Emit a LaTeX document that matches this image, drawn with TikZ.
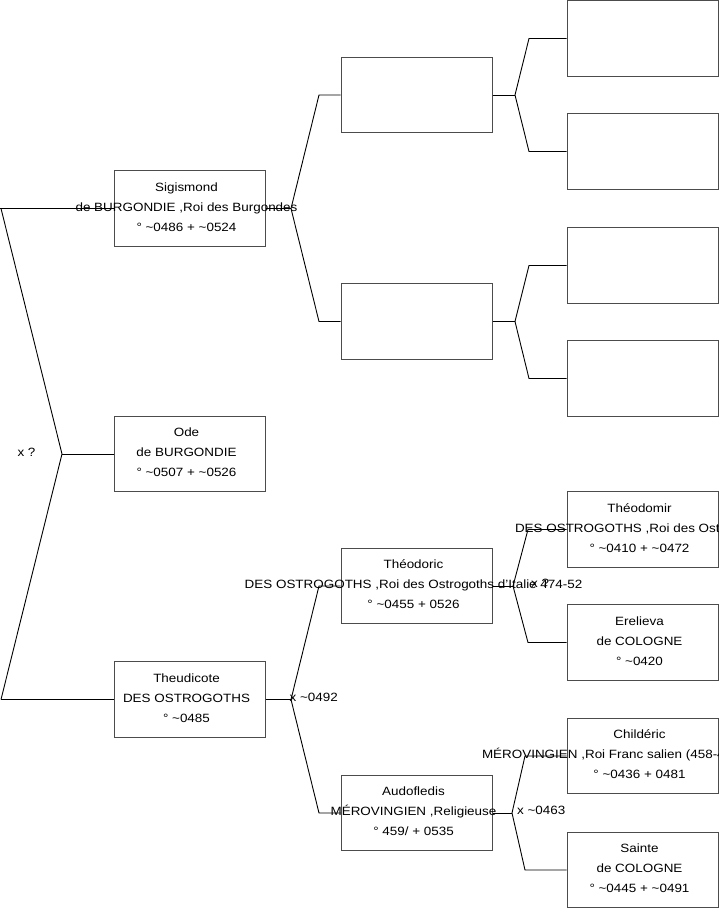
\documentclass[tikz,border=0pt]{standalone}
\usepackage{fontspec}
\setmainfont{Liberation Sans}[FakeStretch=1.12]
\begin{document}
\begin{tikzpicture}[x=1pt,y=-1pt,
  box/.style={draw=black!70, line width=1pt, minimum width=151pt, minimum height=75.5pt, inner sep=0pt},
  txt/.style={align=center, inner sep=0pt, font=\fontsize{12}{20}\selectfont},
  link/.style={draw=black, line width=0.9pt},
  mlab/.style={inner sep=0pt, anchor=west, font=\fontsize{12}{14}\selectfont}]
\useasboundingbox (0,0) rectangle (719,908);
\clip (0,0) rectangle (719,908);

% generation 1
\node[box] (sig) at (189.5,208.5) {};
\node[box] (ode) at (189.5,454) {};
\node[box] (the) at (189.5,699.5) {};
% generation 2
\node[box] (b1) at (416.5,95) {};
\node[box] (b2) at (416.5,321.5) {};
\node[box] (theo) at (416.5,586) {};
\node[box] (aud) at (416.5,813) {};
% generation 3
\node[box] (c1) at (642.5,38.5) {};
\node[box] (c2) at (642.5,151.5) {};
\node[box] (c3) at (642.5,265.5) {};
\node[box] (c4) at (642.5,378.5) {};
\node[box] (tdm) at (642.5,529.5) {};
\node[box] (ere) at (642.5,642.5) {};
\node[box] (chi) at (642.5,756) {};
\node[box] (ste) at (642.5,870) {};

% coordinates
\coordinate (rootT) at (1,208.5);
\coordinate (rootB) at (1,699.5);
\coordinate (jR) at (62,454);
\coordinate (jS) at (291,208.5);
\coordinate (kS1) at (319,95);
\coordinate (kS2) at (319,321.5);
\coordinate (j1) at (515,95);
\coordinate (k11) at (529,38.5);
\coordinate (k12) at (529,151.5);
\coordinate (j2) at (515,321.5);
\coordinate (k21) at (529,265.5);
\coordinate (k22) at (529,378.5);
\coordinate (jT) at (291,699.5);
\coordinate (kT1) at (319,586);
\coordinate (kT2) at (319,813);
\coordinate (jTh) at (513,586);
\coordinate (kTh1) at (528,529.5);
\coordinate (kTh2) at (528,642.5);
\coordinate (jA) at (512,813);
\coordinate (kA1) at (525,756);
\coordinate (kA2) at (525,870);

% connectors
\draw[link] (sig.west) -- (0,208.5);
\draw[link] (rootT) -- (jR) -- (rootB);
\draw[link] (rootB) -- (the.west);
\draw[link] (jR) -- (ode.west);
\draw[link] (sig.east) -- (jS);
\draw[link] (b1.west) -- (kS1) -- (jS) -- (kS2) -- (b2.west);
\draw[link] (b1.east) -- (j1);
\draw[link] (c1.west) -- (k11) -- (j1) -- (k12) -- (c2.west);
\draw[link] (b2.east) -- (j2);
\draw[link] (c3.west) -- (k21) -- (j2) -- (k22) -- (c4.west);
\draw[link] (the.east) -- (jT);
\draw[link] (theo.west) -- (kT1) -- (jT) -- (kT2) -- (aud.west);
\draw[link] (theo.east) -- (jTh);
\draw[link] (tdm.west) -- (kTh1) -- (jTh) -- (kTh2) -- (ere.west);
\draw[link] (aud.east) -- (jA);
\draw[link] (chi.west) -- (kA1) -- (jA) -- (kA2) -- (ste.west);

% texts
\node[txt] (sigt) at ([xshift=-3pt,yshift=1.5pt]sig.center) {Sigismond\\de BURGONDIE ,Roi des Burgondes\\° \textasciitilde0486 + \textasciitilde0524};
\node[txt] (odet) at ([xshift=-3pt,yshift=1.5pt]ode.center) {Ode\\de BURGONDIE\\° \textasciitilde0507 + \textasciitilde0526};
\node[txt] (thet) at ([xshift=-3pt,yshift=1.5pt]the.center) {Theudicote\\DES OSTROGOTHS\\° \textasciitilde0485};
\node[txt] (theot) at ([xshift=-3pt,yshift=1.5pt]theo.center) {Théodoric\\DES OSTROGOTHS ,Roi des Ostrogoths d'Italie 474-52\\° \textasciitilde0455 + 0526};
\node[txt] (audt) at ([xshift=-3pt,yshift=1.5pt]aud.center) {Audofledis\\MÉROVINGIEN ,Religieuse\\° 459/ + 0535};
\node[txt] (tdmt) at ([xshift=-3pt,yshift=1.5pt]tdm.center) {Théodomir\\\makebox[249pt][l]{DES OSTROGOTHS ,Roi des Ostrogoths}\\° \textasciitilde0410 + \textasciitilde0472};
\node[txt] (eret) at ([xshift=-3pt,yshift=1.5pt]ere.center) {Erelieva\\de COLOGNE\\° \textasciitilde0420};
\node[txt] (chit) at ([xshift=-3pt,yshift=1.5pt]chi.center) {Childéric\\\makebox[315pt][l]{MÉROVINGIEN ,Roi Franc salien (458-481)}\\° \textasciitilde0436 + 0481};
\node[txt] (stet) at ([xshift=-3pt,yshift=1.5pt]ste.center) {Sainte\\de COLOGNE\\° \textasciitilde0445 + \textasciitilde0491};

% marriage labels
\node[mlab, anchor=center] (mR) at (26.5,452.5) {x ?};
\node[mlab] (mT) at (289.5,697.3) {x \textasciitilde0492};
\node[mlab] (mTh) at (531,583.5) {x ?};
\node[mlab] (mA) at (517,810.3) {x \textasciitilde0463};
\end{tikzpicture}
\end{document}
